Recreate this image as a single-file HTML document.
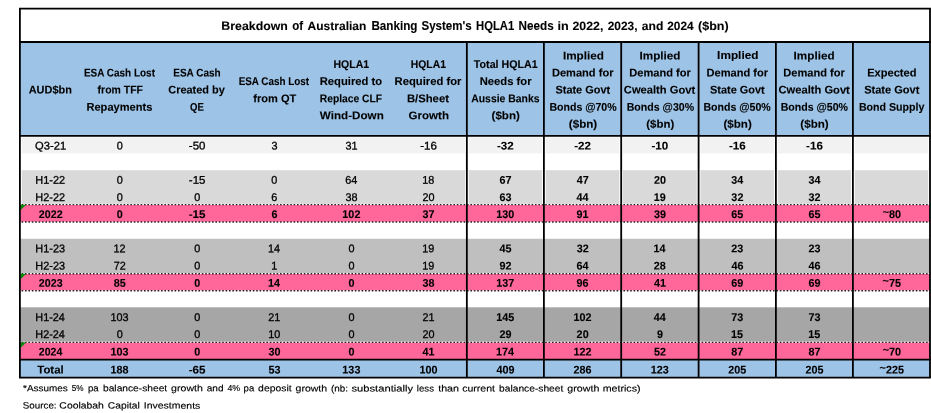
<!DOCTYPE html>
<html lang="en"><head><meta charset="utf-8"><title>Breakdown of Australian Banking System's HQLA1 Needs</title>
<style>html,body{margin:0;padding:0;background:#fff;overflow:hidden}body{width:931px;height:413px;position:relative}</style></head>
<body>
<svg width="931" height="413" viewBox="0 0 931 413" style="display:block;position:absolute;left:0;top:0" font-family="'Liberation Sans', sans-serif" fill="#000">
<rect x="0" y="0" width="931" height="413" fill="#fff"/>
<rect x="19.9" y="42" width="910.1" height="93.8" fill="#9DC3E6"/>
<rect x="19.9" y="137.3" width="910.1" height="16.0" fill="#F2F2F2"/>
<rect x="19.9" y="170.2" width="910.1" height="34.4" fill="#D9D9D9"/>
<rect x="19.9" y="238.75" width="910.1" height="34.95" fill="#BFBFBF"/>
<rect x="19.9" y="307.3" width="910.1" height="35.0" fill="#A6A6A6"/>
<rect x="19.9" y="204.6" width="910.1" height="17.4" fill="#FF6699"/>
<rect x="19.9" y="273.7" width="910.1" height="17.0" fill="#FF6699"/>
<rect x="19.9" y="342.3" width="910.1" height="17.4" fill="#FF6699"/>
<rect x="19.9" y="359.7" width="910.1" height="18.0" fill="#9DC3E6"/>
<line x1="19.9" x2="19.9" y1="136.8" y2="153.3" stroke="#fff" stroke-width="3.7"/>
<line x1="466.85" x2="466.85" y1="136.8" y2="153.3" stroke="#fff" stroke-width="3.7"/>
<line x1="543.9" x2="543.9" y1="136.8" y2="153.3" stroke="#fff" stroke-width="3.7"/>
<line x1="621.2" x2="621.2" y1="136.8" y2="153.3" stroke="#fff" stroke-width="3.7"/>
<line x1="698.6" x2="698.6" y1="136.8" y2="153.3" stroke="#fff" stroke-width="3.7"/>
<line x1="775.9" x2="775.9" y1="136.8" y2="153.3" stroke="#fff" stroke-width="3.7"/>
<line x1="852.9" x2="852.9" y1="136.8" y2="153.3" stroke="#fff" stroke-width="3.7"/>
<line x1="930.0" x2="930.0" y1="136.8" y2="153.3" stroke="#fff" stroke-width="3.7"/>
<line x1="19.9" x2="19.9" y1="170.2" y2="204.6" stroke="#fff" stroke-width="3.7"/>
<line x1="466.85" x2="466.85" y1="170.2" y2="204.6" stroke="#fff" stroke-width="3.7"/>
<line x1="543.9" x2="543.9" y1="170.2" y2="204.6" stroke="#fff" stroke-width="3.7"/>
<line x1="621.2" x2="621.2" y1="170.2" y2="204.6" stroke="#fff" stroke-width="3.7"/>
<line x1="698.6" x2="698.6" y1="170.2" y2="204.6" stroke="#fff" stroke-width="3.7"/>
<line x1="775.9" x2="775.9" y1="170.2" y2="204.6" stroke="#fff" stroke-width="3.7"/>
<line x1="852.9" x2="852.9" y1="170.2" y2="204.6" stroke="#fff" stroke-width="3.7"/>
<line x1="930.0" x2="930.0" y1="170.2" y2="204.6" stroke="#fff" stroke-width="3.7"/>
<line x1="19.9" x2="930.0" y1="204.40" y2="204.40" stroke="#fff" stroke-width="1.0"/>
<line x1="21.6" x2="930.0" y1="204.6" y2="204.6" stroke="#000" stroke-opacity="0.85" stroke-width="1.35" stroke-dasharray="1.6 1.8"/>
<line x1="19.9" x2="930.0" y1="222.20" y2="222.20" stroke="#fff" stroke-width="1.0"/>
<line x1="21.6" x2="930.0" y1="222.0" y2="222.0" stroke="#000" stroke-opacity="0.85" stroke-width="1.35" stroke-dasharray="1.6 1.8"/>
<line x1="19.9" x2="930.0" y1="273.50" y2="273.50" stroke="#fff" stroke-width="1.0"/>
<line x1="21.6" x2="930.0" y1="273.7" y2="273.7" stroke="#000" stroke-opacity="0.85" stroke-width="1.35" stroke-dasharray="1.6 1.8"/>
<line x1="19.9" x2="930.0" y1="290.90" y2="290.90" stroke="#fff" stroke-width="1.0"/>
<line x1="21.6" x2="930.0" y1="290.7" y2="290.7" stroke="#000" stroke-opacity="0.85" stroke-width="1.35" stroke-dasharray="1.6 1.8"/>
<line x1="19.9" x2="930.0" y1="342.10" y2="342.10" stroke="#fff" stroke-width="1.0"/>
<line x1="21.6" x2="930.0" y1="342.3" y2="342.3" stroke="#000" stroke-opacity="0.85" stroke-width="1.35" stroke-dasharray="1.6 1.8"/>
<polygon points="20.4,204.7 26.2,204.7 20.4,210.3" fill="#078a07"/>
<polygon points="20.4,273.8 26.2,273.8 20.4,279.4" fill="#078a07"/>
<polygon points="20.4,342.4 26.2,342.4 20.4,348.0" fill="#078a07"/>
<line x1="19.0" x2="930.9" y1="8.6" y2="8.6" stroke="#000" stroke-width="1.8"/>
<line x1="19.0" x2="930.9" y1="377.7" y2="377.7" stroke="#000" stroke-width="1.8"/>
<line x1="19.0" x2="930.9" y1="42.0" y2="42.0" stroke="#000" stroke-width="1.8"/>
<line x1="19.0" x2="930.9" y1="135.8" y2="135.8" stroke="#000" stroke-width="1.8"/>
<line x1="19.0" x2="930.9" y1="359.7" y2="359.7" stroke="#000" stroke-width="1.8"/>
<line x1="19.9" x2="19.9" y1="8.6" y2="377.7" stroke="#000" stroke-width="1.8"/>
<line x1="930.0" x2="930.0" y1="8.6" y2="377.7" stroke="#000" stroke-width="1.8"/>
<line x1="466.85" x2="466.85" y1="42" y2="377.7" stroke="#000" stroke-width="1.8"/>
<line x1="543.9" x2="543.9" y1="42" y2="377.7" stroke="#000" stroke-width="1.8"/>
<line x1="621.2" x2="621.2" y1="42" y2="377.7" stroke="#000" stroke-width="1.8"/>
<line x1="698.6" x2="698.6" y1="42" y2="377.7" stroke="#000" stroke-width="1.8"/>
<line x1="775.9" x2="775.9" y1="42" y2="377.7" stroke="#000" stroke-width="1.8"/>
<line x1="852.9" x2="852.9" y1="42" y2="377.7" stroke="#000" stroke-width="1.8"/>
<text transform="matrix(1 0.0005 0 1 0 -0.2376)" y="30.0" font-size="12.0" font-weight="bold" stroke="#000" stroke-width="0.1"><tspan x="221.38" textLength="66.48" lengthAdjust="spacingAndGlyphs">Breakdown</tspan> <tspan x="292.27" textLength="10.91" lengthAdjust="spacingAndGlyphs">of</tspan> <tspan x="307.60" textLength="58.74" lengthAdjust="spacingAndGlyphs">Australian</tspan> <tspan x="371.42" textLength="46.05" lengthAdjust="spacingAndGlyphs">Banking</tspan> <tspan x="421.46" textLength="50.29" lengthAdjust="spacingAndGlyphs">System's</tspan> <tspan x="476.05" textLength="38.15" lengthAdjust="spacingAndGlyphs">HQLA1</tspan> <tspan x="518.62" textLength="35.14" lengthAdjust="spacingAndGlyphs">Needs</tspan> <tspan x="557.60" textLength="11.25" lengthAdjust="spacingAndGlyphs">in</tspan> <tspan x="572.49" textLength="30.92" lengthAdjust="spacingAndGlyphs">2022,</tspan> <tspan x="607.70" textLength="29.88" lengthAdjust="spacingAndGlyphs">2023,</tspan> <tspan x="641.75" textLength="21.55" lengthAdjust="spacingAndGlyphs">and</tspan> <tspan x="667.20" textLength="26.39" lengthAdjust="spacingAndGlyphs">2024</tspan> <tspan x="698.07" textLength="30.63" lengthAdjust="spacingAndGlyphs">($bn)</tspan></text>
<text transform="matrix(0.9769 0.0005 0 1 28.71 93.6)" font-size="11.2" font-weight="bold" stroke="#000" stroke-width="0.1">AUD$bn</text>
<text transform="matrix(0.8899 0.0005 0 1 83.93 76.5)" font-size="11.2" font-weight="bold" stroke="#000" stroke-width="0.1">ESA Cash Lost</text>
<text transform="matrix(0.9343 0.0005 0 1 97.61 93.6)" font-size="11.2" font-weight="bold" stroke="#000" stroke-width="0.1">from TFF</text>
<text transform="matrix(0.9908 0.0005 0 1 86.46 110.7)" font-size="11.2" font-weight="bold" stroke="#000" stroke-width="0.1">Repayments</text>
<text transform="matrix(0.8945 0.0005 0 1 173.23 76.5)" font-size="11.2" font-weight="bold" stroke="#000" stroke-width="0.1">ESA Cash</text>
<text transform="matrix(0.9782 0.0005 0 1 168.26 93.6)" font-size="11.2" font-weight="bold" stroke="#000" stroke-width="0.1">Created by</text>
<text transform="matrix(0.8562 0.0005 0 1 190.01 110.7)" font-size="11.2" font-weight="bold" stroke="#000" stroke-width="0.1">QE</text>
<text transform="matrix(0.8835 0.0005 0 1 238.64 85.05)" font-size="11.2" font-weight="bold" stroke="#000" stroke-width="0.1">ESA Cash Lost</text>
<text transform="matrix(0.9884 0.0005 0 1 253.30 102.15)" font-size="11.2" font-weight="bold" stroke="#000" stroke-width="0.1">from QT</text>
<text transform="matrix(0.9404 0.0005 0 1 333.49 67.95)" font-size="11.2" font-weight="bold" stroke="#000" stroke-width="0.1">HQLA1</text>
<text transform="matrix(1.0041 0.0005 0 1 319.75 85.05)" font-size="11.2" font-weight="bold" stroke="#000" stroke-width="0.1">Required to</text>
<text transform="matrix(0.9190 0.0005 0 1 319.81 102.15)" font-size="11.2" font-weight="bold" stroke="#000" stroke-width="0.1">Replace CLF</text>
<text transform="matrix(1.0411 0.0005 0 1 319.80 119.25)" font-size="11.2" font-weight="bold" stroke="#000" stroke-width="0.1">Wind-Down</text>
<text transform="matrix(0.9268 0.0005 0 1 410.80 67.95)" font-size="11.2" font-weight="bold" stroke="#000" stroke-width="0.1">HQLA1</text>
<text transform="matrix(1.0038 0.0005 0 1 394.55 85.05)" font-size="11.2" font-weight="bold" stroke="#000" stroke-width="0.1">Required for</text>
<text transform="matrix(1.0074 0.0005 0 1 406.94 102.15)" font-size="11.2" font-weight="bold" stroke="#000" stroke-width="0.1">B/Sheet</text>
<text transform="matrix(1.0329 0.0005 0 1 408.54 119.25)" font-size="11.2" font-weight="bold" stroke="#000" stroke-width="0.1">Growth</text>
<text transform="matrix(0.9534 0.0005 0 1 473.86 67.95)" font-size="11.2" font-weight="bold" stroke="#000" stroke-width="0.1">Total HQLA1</text>
<text transform="matrix(1.0030 0.0005 0 1 479.75 85.05)" font-size="11.2" font-weight="bold" stroke="#000" stroke-width="0.1">Needs for</text>
<text transform="matrix(0.9312 0.0005 0 1 471.22 102.15)" font-size="11.2" font-weight="bold" stroke="#000" stroke-width="0.1">Aussie Banks</text>
<text transform="matrix(1.0362 0.0005 0 1 491.53 119.25)" font-size="11.2" font-weight="bold" stroke="#000" stroke-width="0.1">($bn)</text>
<text transform="matrix(1.0451 0.0005 0 1 562.92 59.4)" font-size="11.2" font-weight="bold" stroke="#000" stroke-width="0.1">Implied</text>
<text transform="matrix(0.9902 0.0005 0 1 551.96 76.5)" font-size="11.2" font-weight="bold" stroke="#000" stroke-width="0.1">Demand for</text>
<text transform="matrix(0.9775 0.0005 0 1 555.46 93.6)" font-size="11.2" font-weight="bold" stroke="#000" stroke-width="0.1">State Govt</text>
<text transform="matrix(0.9452 0.0005 0 1 549.39 110.7)" font-size="11.2" font-weight="bold" stroke="#000" stroke-width="0.1">Bonds @70%</text>
<text transform="matrix(1.0400 0.0005 0 1 568.83 127.8)" font-size="11.2" font-weight="bold" stroke="#000" stroke-width="0.1">($bn)</text>
<text transform="matrix(1.0451 0.0005 0 1 639.52 59.4)" font-size="11.2" font-weight="bold" stroke="#000" stroke-width="0.1">Implied</text>
<text transform="matrix(0.9902 0.0005 0 1 629.26 76.5)" font-size="11.2" font-weight="bold" stroke="#000" stroke-width="0.1">Demand for</text>
<text transform="matrix(0.9972 0.0005 0 1 623.85 93.6)" font-size="11.2" font-weight="bold" stroke="#000" stroke-width="0.1">Cwealth Govt</text>
<text transform="matrix(0.9466 0.0005 0 1 626.69 110.7)" font-size="11.2" font-weight="bold" stroke="#000" stroke-width="0.1">Bonds @30%</text>
<text transform="matrix(1.0248 0.0005 0 1 646.24 127.8)" font-size="11.2" font-weight="bold" stroke="#000" stroke-width="0.1">($bn)</text>
<text transform="matrix(1.0557 0.0005 0 1 717.11 59.4)" font-size="11.2" font-weight="bold" stroke="#000" stroke-width="0.1">Implied</text>
<text transform="matrix(0.9902 0.0005 0 1 706.56 76.5)" font-size="11.2" font-weight="bold" stroke="#000" stroke-width="0.1">Demand for</text>
<text transform="matrix(0.9775 0.0005 0 1 710.06 93.6)" font-size="11.2" font-weight="bold" stroke="#000" stroke-width="0.1">State Govt</text>
<text transform="matrix(0.9452 0.0005 0 1 703.49 110.7)" font-size="11.2" font-weight="bold" stroke="#000" stroke-width="0.1">Bonds @50%</text>
<text transform="matrix(1.0362 0.0005 0 1 723.43 127.8)" font-size="11.2" font-weight="bold" stroke="#000" stroke-width="0.1">($bn)</text>
<text transform="matrix(1.0451 0.0005 0 1 793.62 59.4)" font-size="11.2" font-weight="bold" stroke="#000" stroke-width="0.1">Implied</text>
<text transform="matrix(0.9902 0.0005 0 1 783.36 76.5)" font-size="11.2" font-weight="bold" stroke="#000" stroke-width="0.1">Demand for</text>
<text transform="matrix(0.9972 0.0005 0 1 778.55 93.6)" font-size="11.2" font-weight="bold" stroke="#000" stroke-width="0.1">Cwealth Govt</text>
<text transform="matrix(0.9452 0.0005 0 1 780.69 110.7)" font-size="11.2" font-weight="bold" stroke="#000" stroke-width="0.1">Bonds @50%</text>
<text transform="matrix(1.0362 0.0005 0 1 800.33 127.8)" font-size="11.2" font-weight="bold" stroke="#000" stroke-width="0.1">($bn)</text>
<text transform="matrix(0.9917 0.0005 0 1 867.16 76.5)" font-size="11.2" font-weight="bold" stroke="#000" stroke-width="0.1">Expected</text>
<text transform="matrix(0.9883 0.0005 0 1 864.15 93.6)" font-size="11.2" font-weight="bold" stroke="#000" stroke-width="0.1">State Govt</text>
<text transform="matrix(0.9509 0.0005 0 1 858.89 110.7)" font-size="11.2" font-weight="bold" stroke="#000" stroke-width="0.1">Bond Supply</text>
<text transform="matrix(0.9983 0.0005 0 1 35.05 149.6)" font-size="11.2" font-weight="normal" stroke="#000" stroke-width="0.3">Q3-21</text>
<text transform="matrix(0.9700 0.0005 0 1 116.67 149.6)" font-size="11.2" font-weight="normal" stroke="#000" stroke-width="0.3">0</text>
<text transform="matrix(1.0300 0.0005 0 1 188.83 149.6)" font-size="11.2" font-weight="normal" stroke="#000" stroke-width="0.3">-50</text>
<text transform="matrix(0.9700 0.0005 0 1 271.39 149.6)" font-size="11.2" font-weight="normal" stroke="#000" stroke-width="0.3">3</text>
<text transform="matrix(0.9700 0.0005 0 1 345.49 149.6)" font-size="11.2" font-weight="normal" stroke="#000" stroke-width="0.3">31</text>
<text transform="matrix(1.0300 0.0005 0 1 420.16 149.6)" font-size="11.2" font-weight="normal" stroke="#000" stroke-width="0.3">-16</text>
<text transform="matrix(1.0400 0.0005 0 1 496.98 149.6)" font-size="11.2" font-weight="bold" stroke="#000" stroke-width="0.1">-32</text>
<text transform="matrix(1.0400 0.0005 0 1 574.18 149.6)" font-size="11.2" font-weight="bold" stroke="#000" stroke-width="0.1">-22</text>
<text transform="matrix(1.0400 0.0005 0 1 651.50 149.6)" font-size="11.2" font-weight="bold" stroke="#000" stroke-width="0.1">-10</text>
<text transform="matrix(1.0400 0.0005 0 1 728.88 149.6)" font-size="11.2" font-weight="bold" stroke="#000" stroke-width="0.1">-16</text>
<text transform="matrix(1.0400 0.0005 0 1 806.08 149.6)" font-size="11.2" font-weight="bold" stroke="#000" stroke-width="0.1">-16</text>
<text transform="matrix(0.9776 0.0005 0 1 35.32 183.8)" font-size="11.2" font-weight="normal" stroke="#000" stroke-width="0.3">H1-22</text>
<text transform="matrix(0.9700 0.0005 0 1 116.67 183.8)" font-size="11.2" font-weight="normal" stroke="#000" stroke-width="0.3">0</text>
<text transform="matrix(1.0300 0.0005 0 1 188.86 183.8)" font-size="11.2" font-weight="normal" stroke="#000" stroke-width="0.3">-15</text>
<text transform="matrix(0.9700 0.0005 0 1 271.37 183.8)" font-size="11.2" font-weight="normal" stroke="#000" stroke-width="0.3">0</text>
<text transform="matrix(0.9700 0.0005 0 1 345.34 183.8)" font-size="11.2" font-weight="normal" stroke="#000" stroke-width="0.3">64</text>
<text transform="matrix(0.9700 0.0005 0 1 422.27 183.8)" font-size="11.2" font-weight="normal" stroke="#000" stroke-width="0.3">18</text>
<text transform="matrix(0.9650 0.0005 0 1 499.42 183.8)" font-size="11.2" font-weight="bold" stroke="#000" stroke-width="0.1">67</text>
<text transform="matrix(0.9650 0.0005 0 1 576.74 183.8)" font-size="11.2" font-weight="bold" stroke="#000" stroke-width="0.1">47</text>
<text transform="matrix(0.9650 0.0005 0 1 653.92 183.8)" font-size="11.2" font-weight="bold" stroke="#000" stroke-width="0.1">20</text>
<text transform="matrix(0.9650 0.0005 0 1 731.20 183.8)" font-size="11.2" font-weight="bold" stroke="#000" stroke-width="0.1">34</text>
<text transform="matrix(0.9650 0.0005 0 1 808.40 183.8)" font-size="11.2" font-weight="bold" stroke="#000" stroke-width="0.1">34</text>
<text transform="matrix(0.9776 0.0005 0 1 35.32 201.0)" font-size="11.2" font-weight="normal" stroke="#000" stroke-width="0.3">H2-22</text>
<text transform="matrix(0.9700 0.0005 0 1 116.67 201.0)" font-size="11.2" font-weight="normal" stroke="#000" stroke-width="0.3">0</text>
<text transform="matrix(0.9700 0.0005 0 1 194.17 201.0)" font-size="11.2" font-weight="normal" stroke="#000" stroke-width="0.3">0</text>
<text transform="matrix(0.9700 0.0005 0 1 271.34 201.0)" font-size="11.2" font-weight="normal" stroke="#000" stroke-width="0.3">6</text>
<text transform="matrix(0.9700 0.0005 0 1 345.46 201.0)" font-size="11.2" font-weight="normal" stroke="#000" stroke-width="0.3">38</text>
<text transform="matrix(0.9700 0.0005 0 1 422.39 201.0)" font-size="11.2" font-weight="normal" stroke="#000" stroke-width="0.3">20</text>
<text transform="matrix(0.9650 0.0005 0 1 499.39 201.0)" font-size="11.2" font-weight="bold" stroke="#000" stroke-width="0.1">63</text>
<text transform="matrix(0.9650 0.0005 0 1 576.54 201.0)" font-size="11.2" font-weight="bold" stroke="#000" stroke-width="0.1">44</text>
<text transform="matrix(0.9650 0.0005 0 1 653.75 201.0)" font-size="11.2" font-weight="bold" stroke="#000" stroke-width="0.1">19</text>
<text transform="matrix(0.9650 0.0005 0 1 731.37 201.0)" font-size="11.2" font-weight="bold" stroke="#000" stroke-width="0.1">32</text>
<text transform="matrix(0.9650 0.0005 0 1 808.57 201.0)" font-size="11.2" font-weight="bold" stroke="#000" stroke-width="0.1">32</text>
<text transform="matrix(0.9544 0.0005 0 1 38.82 218.0)" font-size="11.2" font-weight="bold" stroke="#000" stroke-width="0.1">2022</text>
<text transform="matrix(0.9650 0.0005 0 1 116.71 218.0)" font-size="11.2" font-weight="bold" stroke="#000" stroke-width="0.1">0</text>
<text transform="matrix(1.0400 0.0005 0 1 188.72 218.0)" font-size="11.2" font-weight="bold" stroke="#000" stroke-width="0.1">-15</text>
<text transform="matrix(0.9650 0.0005 0 1 271.41 218.0)" font-size="11.2" font-weight="bold" stroke="#000" stroke-width="0.1">6</text>
<text transform="matrix(0.9650 0.0005 0 1 342.36 218.0)" font-size="11.2" font-weight="bold" stroke="#000" stroke-width="0.1">102</text>
<text transform="matrix(0.9650 0.0005 0 1 422.59 218.0)" font-size="11.2" font-weight="bold" stroke="#000" stroke-width="0.1">37</text>
<text transform="matrix(0.9650 0.0005 0 1 496.28 218.0)" font-size="11.2" font-weight="bold" stroke="#000" stroke-width="0.1">130</text>
<text transform="matrix(0.9650 0.0005 0 1 576.54 218.0)" font-size="11.2" font-weight="bold" stroke="#000" stroke-width="0.1">91</text>
<text transform="matrix(0.9650 0.0005 0 1 653.97 218.0)" font-size="11.2" font-weight="bold" stroke="#000" stroke-width="0.1">39</text>
<text transform="matrix(0.9650 0.0005 0 1 731.24 218.0)" font-size="11.2" font-weight="bold" stroke="#000" stroke-width="0.1">65</text>
<text transform="matrix(0.9650 0.0005 0 1 808.44 218.0)" font-size="11.2" font-weight="bold" stroke="#000" stroke-width="0.1">65</text>
<text transform="matrix(0.9650 0.0005 0 1 882.66 218.0)" font-size="11.2" font-weight="bold" stroke="#000" stroke-width="0.1"><tspan dy="-2.2">~</tspan><tspan dy="2.2">80</tspan></text>
<text transform="matrix(0.9743 0.0005 0 1 35.32 252.2)" font-size="11.2" font-weight="normal" stroke="#000" stroke-width="0.3">H1-23</text>
<text transform="matrix(0.9700 0.0005 0 1 113.52 252.2)" font-size="11.2" font-weight="normal" stroke="#000" stroke-width="0.3">12</text>
<text transform="matrix(0.9700 0.0005 0 1 194.17 252.2)" font-size="11.2" font-weight="normal" stroke="#000" stroke-width="0.3">0</text>
<text transform="matrix(0.9700 0.0005 0 1 268.09 252.2)" font-size="11.2" font-weight="normal" stroke="#000" stroke-width="0.3">14</text>
<text transform="matrix(0.9700 0.0005 0 1 348.47 252.2)" font-size="11.2" font-weight="normal" stroke="#000" stroke-width="0.3">0</text>
<text transform="matrix(0.9700 0.0005 0 1 422.29 252.2)" font-size="11.2" font-weight="normal" stroke="#000" stroke-width="0.3">19</text>
<text transform="matrix(0.9650 0.0005 0 1 499.47 252.2)" font-size="11.2" font-weight="bold" stroke="#000" stroke-width="0.1">45</text>
<text transform="matrix(0.9650 0.0005 0 1 576.67 252.2)" font-size="11.2" font-weight="bold" stroke="#000" stroke-width="0.1">32</text>
<text transform="matrix(0.9650 0.0005 0 1 653.58 252.2)" font-size="11.2" font-weight="bold" stroke="#000" stroke-width="0.1">14</text>
<text transform="matrix(0.9650 0.0005 0 1 731.29 252.2)" font-size="11.2" font-weight="bold" stroke="#000" stroke-width="0.1">23</text>
<text transform="matrix(0.9650 0.0005 0 1 808.49 252.2)" font-size="11.2" font-weight="bold" stroke="#000" stroke-width="0.1">23</text>
<text transform="matrix(0.9743 0.0005 0 1 35.32 269.6)" font-size="11.2" font-weight="normal" stroke="#000" stroke-width="0.3">H2-23</text>
<text transform="matrix(0.9700 0.0005 0 1 113.66 269.6)" font-size="11.2" font-weight="normal" stroke="#000" stroke-width="0.3">72</text>
<text transform="matrix(0.9700 0.0005 0 1 194.17 269.6)" font-size="11.2" font-weight="normal" stroke="#000" stroke-width="0.3">0</text>
<text transform="matrix(0.9700 0.0005 0 1 271.22 269.6)" font-size="11.2" font-weight="normal" stroke="#000" stroke-width="0.3">1</text>
<text transform="matrix(0.9700 0.0005 0 1 348.47 269.6)" font-size="11.2" font-weight="normal" stroke="#000" stroke-width="0.3">0</text>
<text transform="matrix(0.9700 0.0005 0 1 422.29 269.6)" font-size="11.2" font-weight="normal" stroke="#000" stroke-width="0.3">19</text>
<text transform="matrix(0.9650 0.0005 0 1 499.39 269.6)" font-size="11.2" font-weight="bold" stroke="#000" stroke-width="0.1">92</text>
<text transform="matrix(0.9650 0.0005 0 1 576.42 269.6)" font-size="11.2" font-weight="bold" stroke="#000" stroke-width="0.1">64</text>
<text transform="matrix(0.9650 0.0005 0 1 653.84 269.6)" font-size="11.2" font-weight="bold" stroke="#000" stroke-width="0.1">28</text>
<text transform="matrix(0.9650 0.0005 0 1 731.41 269.6)" font-size="11.2" font-weight="bold" stroke="#000" stroke-width="0.1">46</text>
<text transform="matrix(0.9650 0.0005 0 1 808.61 269.6)" font-size="11.2" font-weight="bold" stroke="#000" stroke-width="0.1">46</text>
<text transform="matrix(0.9544 0.0005 0 1 38.82 286.8)" font-size="11.2" font-weight="bold" stroke="#000" stroke-width="0.1">2023</text>
<text transform="matrix(0.9650 0.0005 0 1 113.67 286.8)" font-size="11.2" font-weight="bold" stroke="#000" stroke-width="0.1">85</text>
<text transform="matrix(0.9650 0.0005 0 1 194.21 286.8)" font-size="11.2" font-weight="bold" stroke="#000" stroke-width="0.1">0</text>
<text transform="matrix(0.9650 0.0005 0 1 268.08 286.8)" font-size="11.2" font-weight="bold" stroke="#000" stroke-width="0.1">14</text>
<text transform="matrix(0.9650 0.0005 0 1 348.51 286.8)" font-size="11.2" font-weight="bold" stroke="#000" stroke-width="0.1">0</text>
<text transform="matrix(0.9650 0.0005 0 1 422.52 286.8)" font-size="11.2" font-weight="bold" stroke="#000" stroke-width="0.1">38</text>
<text transform="matrix(0.9650 0.0005 0 1 496.28 286.8)" font-size="11.2" font-weight="bold" stroke="#000" stroke-width="0.1">137</text>
<text transform="matrix(0.9650 0.0005 0 1 576.59 286.8)" font-size="11.2" font-weight="bold" stroke="#000" stroke-width="0.1">96</text>
<text transform="matrix(0.9650 0.0005 0 1 653.97 286.8)" font-size="11.2" font-weight="bold" stroke="#000" stroke-width="0.1">41</text>
<text transform="matrix(0.9650 0.0005 0 1 731.29 286.8)" font-size="11.2" font-weight="bold" stroke="#000" stroke-width="0.1">69</text>
<text transform="matrix(0.9650 0.0005 0 1 808.49 286.8)" font-size="11.2" font-weight="bold" stroke="#000" stroke-width="0.1">69</text>
<text transform="matrix(0.9650 0.0005 0 1 882.58 286.8)" font-size="11.2" font-weight="bold" stroke="#000" stroke-width="0.1"><tspan dy="-2.2">~</tspan><tspan dy="2.2">75</tspan></text>
<text transform="matrix(0.9693 0.0005 0 1 35.33 320.9)" font-size="11.2" font-weight="normal" stroke="#000" stroke-width="0.3">H1-24</text>
<text transform="matrix(0.9700 0.0005 0 1 110.46 320.9)" font-size="11.2" font-weight="normal" stroke="#000" stroke-width="0.3">103</text>
<text transform="matrix(0.9700 0.0005 0 1 194.17 320.9)" font-size="11.2" font-weight="normal" stroke="#000" stroke-width="0.3">0</text>
<text transform="matrix(0.9700 0.0005 0 1 268.34 320.9)" font-size="11.2" font-weight="normal" stroke="#000" stroke-width="0.3">21</text>
<text transform="matrix(0.9700 0.0005 0 1 348.47 320.9)" font-size="11.2" font-weight="normal" stroke="#000" stroke-width="0.3">0</text>
<text transform="matrix(0.9700 0.0005 0 1 422.44 320.9)" font-size="11.2" font-weight="normal" stroke="#000" stroke-width="0.3">21</text>
<text transform="matrix(0.9650 0.0005 0 1 496.21 320.9)" font-size="11.2" font-weight="bold" stroke="#000" stroke-width="0.1">145</text>
<text transform="matrix(0.9650 0.0005 0 1 573.46 320.9)" font-size="11.2" font-weight="bold" stroke="#000" stroke-width="0.1">102</text>
<text transform="matrix(0.9650 0.0005 0 1 653.84 320.9)" font-size="11.2" font-weight="bold" stroke="#000" stroke-width="0.1">44</text>
<text transform="matrix(0.9650 0.0005 0 1 731.24 320.9)" font-size="11.2" font-weight="bold" stroke="#000" stroke-width="0.1">73</text>
<text transform="matrix(0.9650 0.0005 0 1 808.44 320.9)" font-size="11.2" font-weight="bold" stroke="#000" stroke-width="0.1">73</text>
<text transform="matrix(0.9693 0.0005 0 1 35.33 338.0)" font-size="11.2" font-weight="normal" stroke="#000" stroke-width="0.3">H2-24</text>
<text transform="matrix(0.9700 0.0005 0 1 116.67 338.0)" font-size="11.2" font-weight="normal" stroke="#000" stroke-width="0.3">0</text>
<text transform="matrix(0.9700 0.0005 0 1 194.17 338.0)" font-size="11.2" font-weight="normal" stroke="#000" stroke-width="0.3">0</text>
<text transform="matrix(0.9700 0.0005 0 1 268.14 338.0)" font-size="11.2" font-weight="normal" stroke="#000" stroke-width="0.3">10</text>
<text transform="matrix(0.9700 0.0005 0 1 348.47 338.0)" font-size="11.2" font-weight="normal" stroke="#000" stroke-width="0.3">0</text>
<text transform="matrix(0.9700 0.0005 0 1 422.39 338.0)" font-size="11.2" font-weight="normal" stroke="#000" stroke-width="0.3">20</text>
<text transform="matrix(0.9650 0.0005 0 1 499.39 338.0)" font-size="11.2" font-weight="bold" stroke="#000" stroke-width="0.1">29</text>
<text transform="matrix(0.9650 0.0005 0 1 576.62 338.0)" font-size="11.2" font-weight="bold" stroke="#000" stroke-width="0.1">20</text>
<text transform="matrix(0.9650 0.0005 0 1 656.91 338.0)" font-size="11.2" font-weight="bold" stroke="#000" stroke-width="0.1">9</text>
<text transform="matrix(0.9650 0.0005 0 1 731.10 338.0)" font-size="11.2" font-weight="bold" stroke="#000" stroke-width="0.1">15</text>
<text transform="matrix(0.9650 0.0005 0 1 808.30 338.0)" font-size="11.2" font-weight="bold" stroke="#000" stroke-width="0.1">15</text>
<text transform="matrix(0.9407 0.0005 0 1 38.82 355.6)" font-size="11.2" font-weight="bold" stroke="#000" stroke-width="0.1">2024</text>
<text transform="matrix(0.9650 0.0005 0 1 110.56 355.6)" font-size="11.2" font-weight="bold" stroke="#000" stroke-width="0.1">103</text>
<text transform="matrix(0.9650 0.0005 0 1 194.21 355.6)" font-size="11.2" font-weight="bold" stroke="#000" stroke-width="0.1">0</text>
<text transform="matrix(0.9650 0.0005 0 1 268.49 355.6)" font-size="11.2" font-weight="bold" stroke="#000" stroke-width="0.1">30</text>
<text transform="matrix(0.9650 0.0005 0 1 348.51 355.6)" font-size="11.2" font-weight="bold" stroke="#000" stroke-width="0.1">0</text>
<text transform="matrix(0.9650 0.0005 0 1 422.57 355.6)" font-size="11.2" font-weight="bold" stroke="#000" stroke-width="0.1">41</text>
<text transform="matrix(0.9650 0.0005 0 1 496.09 355.6)" font-size="11.2" font-weight="bold" stroke="#000" stroke-width="0.1">174</text>
<text transform="matrix(0.9650 0.0005 0 1 573.46 355.6)" font-size="11.2" font-weight="bold" stroke="#000" stroke-width="0.1">122</text>
<text transform="matrix(0.9650 0.0005 0 1 653.92 355.6)" font-size="11.2" font-weight="bold" stroke="#000" stroke-width="0.1">52</text>
<text transform="matrix(0.9650 0.0005 0 1 731.34 355.6)" font-size="11.2" font-weight="bold" stroke="#000" stroke-width="0.1">87</text>
<text transform="matrix(0.9650 0.0005 0 1 808.54 355.6)" font-size="11.2" font-weight="bold" stroke="#000" stroke-width="0.1">87</text>
<text transform="matrix(0.9650 0.0005 0 1 882.66 355.6)" font-size="11.2" font-weight="bold" stroke="#000" stroke-width="0.1"><tspan dy="-2.2">~</tspan><tspan dy="2.2">70</tspan></text>
<text transform="matrix(1.0220 0.0005 0 1 37.25 373.6)" font-size="11.2" font-weight="bold" stroke="#000" stroke-width="0.1">Total</text>
<text transform="matrix(0.9650 0.0005 0 1 110.51 373.6)" font-size="11.2" font-weight="bold" stroke="#000" stroke-width="0.1">188</text>
<text transform="matrix(1.0400 0.0005 0 1 188.72 373.6)" font-size="11.2" font-weight="bold" stroke="#000" stroke-width="0.1">-65</text>
<text transform="matrix(0.9650 0.0005 0 1 268.42 373.6)" font-size="11.2" font-weight="bold" stroke="#000" stroke-width="0.1">53</text>
<text transform="matrix(0.9650 0.0005 0 1 342.36 373.6)" font-size="11.2" font-weight="bold" stroke="#000" stroke-width="0.1">133</text>
<text transform="matrix(0.9650 0.0005 0 1 419.38 373.6)" font-size="11.2" font-weight="bold" stroke="#000" stroke-width="0.1">100</text>
<text transform="matrix(0.9650 0.0005 0 1 496.52 373.6)" font-size="11.2" font-weight="bold" stroke="#000" stroke-width="0.1">409</text>
<text transform="matrix(0.9650 0.0005 0 1 573.60 373.6)" font-size="11.2" font-weight="bold" stroke="#000" stroke-width="0.1">286</text>
<text transform="matrix(0.9650 0.0005 0 1 650.76 373.6)" font-size="11.2" font-weight="bold" stroke="#000" stroke-width="0.1">123</text>
<text transform="matrix(0.9650 0.0005 0 1 728.25 373.6)" font-size="11.2" font-weight="bold" stroke="#000" stroke-width="0.1">205</text>
<text transform="matrix(0.9650 0.0005 0 1 805.45 373.6)" font-size="11.2" font-weight="bold" stroke="#000" stroke-width="0.1">205</text>
<text transform="matrix(0.9650 0.0005 0 1 879.57 373.6)" font-size="11.2" font-weight="bold" stroke="#000" stroke-width="0.1"><tspan dy="-2.2">~</tspan><tspan dy="2.2">225</tspan></text>
<text transform="matrix(1 0.0005 0 1 0 -0.1658)" y="391.4" font-size="9.1" font-weight="normal" stroke="#000" stroke-width="0.15"><tspan x="23.04" textLength="44.66" lengthAdjust="spacingAndGlyphs">*Assumes</tspan> <tspan x="71.79" textLength="11.83" lengthAdjust="spacingAndGlyphs">5%</tspan> <tspan x="87.96" textLength="10.76" lengthAdjust="spacingAndGlyphs">pa</tspan> <tspan x="103.03" textLength="64.15" lengthAdjust="spacingAndGlyphs">balance-sheet</tspan> <tspan x="171.13" textLength="31.78" lengthAdjust="spacingAndGlyphs">growth</tspan> <tspan x="206.76" textLength="16.85" lengthAdjust="spacingAndGlyphs">and</tspan> <tspan x="227.41" textLength="12.73" lengthAdjust="spacingAndGlyphs">4%</tspan> <tspan x="243.57" textLength="10.65" lengthAdjust="spacingAndGlyphs">pa</tspan> <tspan x="258.14" textLength="33.46" lengthAdjust="spacingAndGlyphs">deposit</tspan> <tspan x="295.54" textLength="31.57" lengthAdjust="spacingAndGlyphs">growth</tspan> <tspan x="330.90" textLength="17.00" lengthAdjust="spacingAndGlyphs">(nb:</tspan> <tspan x="351.49" textLength="61.54" lengthAdjust="spacingAndGlyphs">substantially</tspan> <tspan x="416.87" textLength="17.08" lengthAdjust="spacingAndGlyphs">less</tspan> <tspan x="438.22" textLength="20.79" lengthAdjust="spacingAndGlyphs">than</tspan> <tspan x="462.24" textLength="32.75" lengthAdjust="spacingAndGlyphs">current</tspan> <tspan x="499.02" textLength="64.35" lengthAdjust="spacingAndGlyphs">balance-sheet</tspan> <tspan x="567.33" textLength="31.99" lengthAdjust="spacingAndGlyphs">growth</tspan> <tspan x="602.70" textLength="37.91" lengthAdjust="spacingAndGlyphs">metrics)</tspan></text>
<text transform="matrix(1 0.0005 0 1 0 -0.0558)" y="408.6" font-size="9.1" font-weight="normal" stroke="#000" stroke-width="0.15"><tspan x="22.77" textLength="33.81" lengthAdjust="spacingAndGlyphs">Source:</tspan> <tspan x="59.39" textLength="44.51" lengthAdjust="spacingAndGlyphs">Coolabah</tspan> <tspan x="107.79" textLength="32.02" lengthAdjust="spacingAndGlyphs">Capital</tspan> <tspan x="143.82" textLength="56.49" lengthAdjust="spacingAndGlyphs">Investments</tspan></text>
</svg>
</body></html>
